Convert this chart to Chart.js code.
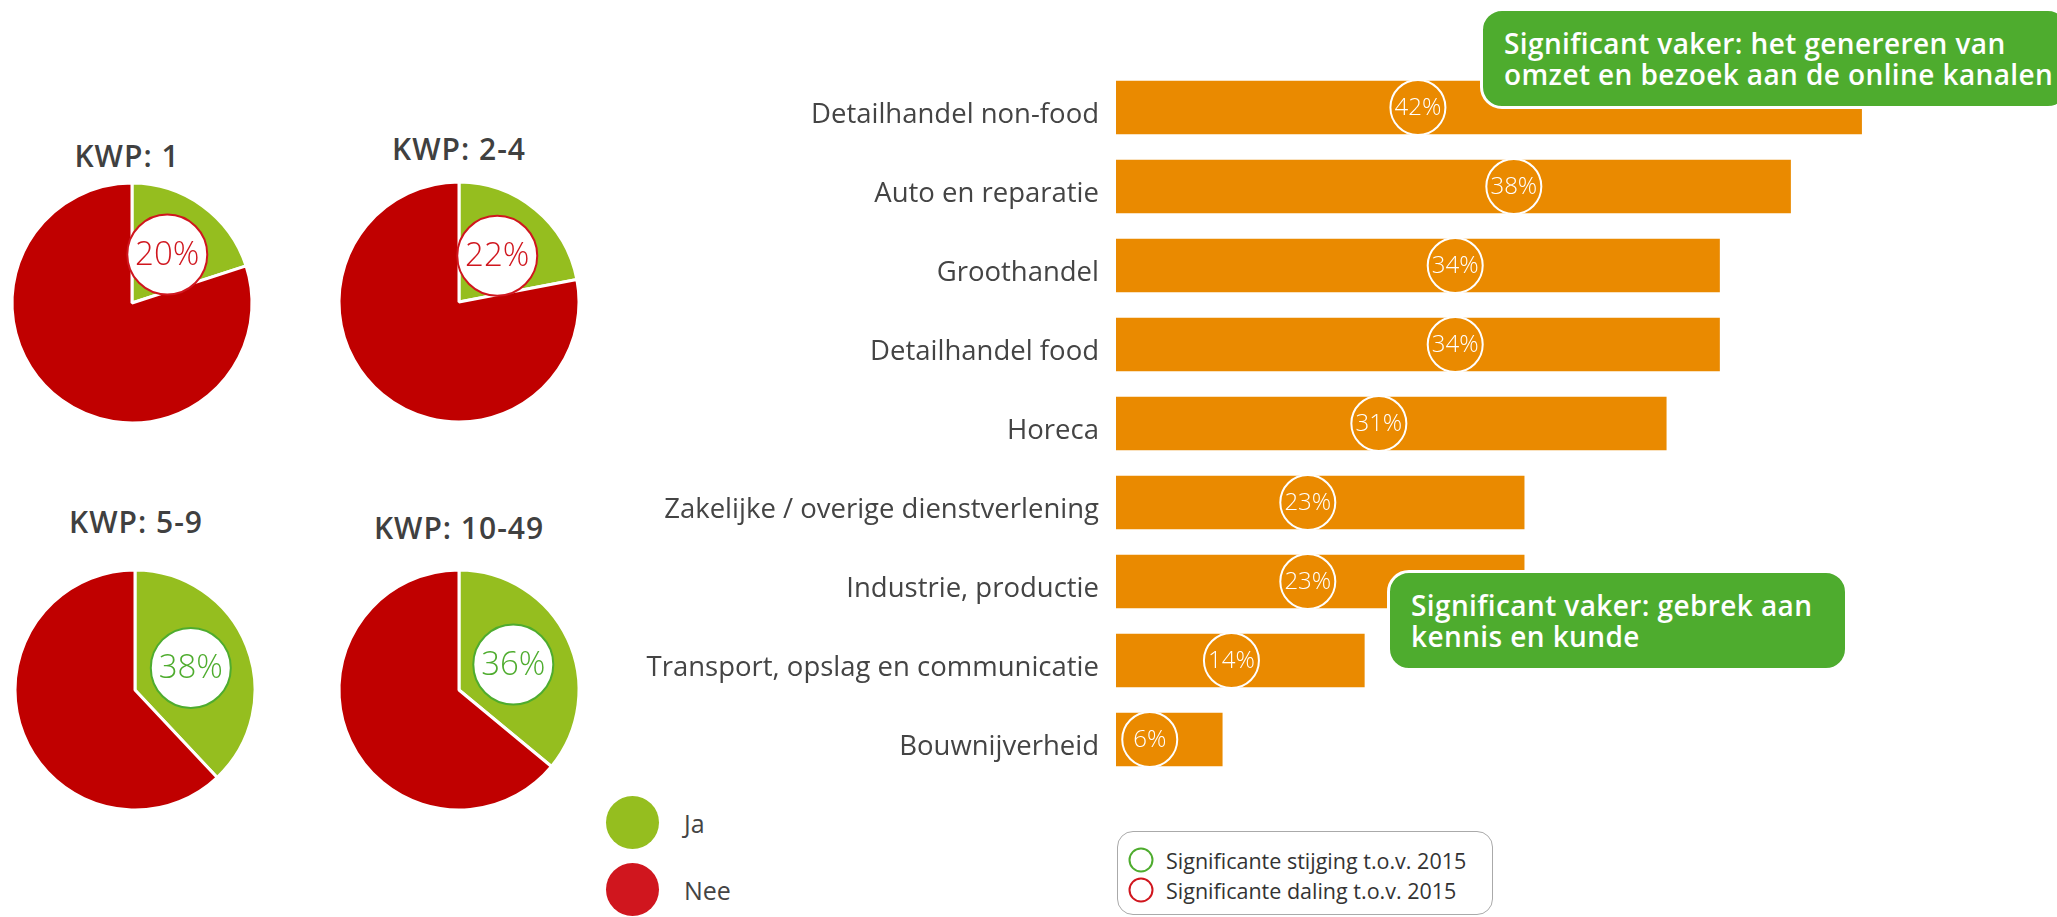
<!DOCTYPE html>
<html lang="nl">
<head>
<meta charset="utf-8">
<title>Online kanalen per sector en bedrijfsgrootte</title>
<script src="https://cdn.jsdelivr.net/npm/chart.js@4.4.1/dist/chart.umd.min.js"></script>
<style>
  html, body { margin: 0; padding: 0; background: #fff; }
  body { width: 2057px; height: 917px; position: relative; overflow: hidden;
         font-family: "Open Sans", "Noto Sans", sans-serif; color: #444; }
  canvas { position: absolute; }
  .title { position: absolute; transform: translate(-50%, -50%); font-size: 30px; font-weight: 600;
           letter-spacing: 1px; color: #404040; white-space: nowrap; }
  .callout { position: absolute; box-sizing: border-box; background: #4EAC2E; border: 3px solid #fff;
             border-radius: 22px; color: #fff; font-size: 28px; font-weight: 600; line-height: 31px;
             letter-spacing: 0.4px; padding-left: 21px; display: flex; flex-direction: column;
             justify-content: center; white-space: nowrap; }
  .dot { position: absolute; border-radius: 50%; }
  .legtxt { position: absolute; transform: translateY(-50%); font-size: 25px; color: #444; white-space: nowrap; }
  .sigbox { position: absolute; box-sizing: border-box; border: 1.5px solid #aaa; border-radius: 16px; }
  .ring { position: absolute; box-sizing: border-box; border-radius: 50%; border: 2.5px solid; width: 25px; height: 25px;
          transform: translate(-50%, -50%); }
  .sigtxt { position: absolute; transform: translateY(-50%); font-size: 21.5px; color: #333; white-space: nowrap; }
</style>
</head>
<body>

<canvas id="bars" width="1404" height="711" style="left:600px;top:68px;width:1404px;height:711px"></canvas>

<script>
// Share per sector (%)
const sectors = [
  'Detailhandel non-food',
  'Auto en reparatie',
  'Groothandel',
  'Detailhandel food',
  'Horeca',
  'Zakelijke / overige dienstverlening',
  'Industrie, productie',
  'Transport, opslag en communicatie',
  'Bouwnijverheid'
];
const sectorShare = [42, 38, 34, 34, 31, 23, 23, 14, 6];

// Share per company size (KWP = werkzame personen)
const pieTitles = ['KWP: 1', 'KWP: 2-4', 'KWP: 5-9', 'KWP: 10-49'];
const pieJa  = [20, 22, 38, 36];
const pieNee = [80, 78, 62, 64];
const pieChange = ['daling', 'daling', 'stijging', 'stijging'];

// Callout texts
const callouts = [
  ['Significant vaker: het genereren van', 'omzet en bezoek aan de online kanalen'],
  ['Significant vaker: gebrek aan', 'kennis en kunde']
];

// ---- styling / layout ----
const ORANGE = '#EA8A00';
const PIE_GREEN = '#95BE1F';
const PIE_RED = '#C00000';
const UP = '#4EAC2E';
const DOWN = '#D0161E';
const FONT = '"Open Sans", "Noto Sans", sans-serif';
const changeColor = { stijging: UP, daling: DOWN };

// where the value badge sits along each bar, in x-axis units
const badgeAt = [17, 22.4, 19.1, 19.1, 14.8, 10.8, 10.8, 6.5, 1.9];
const pieCenters = [[132, 303], [459, 302], [135, 690], [459, 690]];
const titleCenters = [[127, 155], [459, 148], [136, 521], [459, 527]];

// White ring with value on each bar
const barBadges = {
  id: 'barBadges',
  afterDatasetsDraw(chart) {
    const { ctx } = chart;
    const xs = chart.scales.x;
    const meta = chart.getDatasetMeta(0);
    ctx.save();
    meta.data.forEach((bar, i) => {
      const cx = xs.getPixelForValue(badgeAt[i]);
      const cy = bar.y;
      ctx.beginPath();
      ctx.arc(cx, cy, 27.5, 0, Math.PI * 2);
      ctx.lineWidth = 2;
      ctx.strokeStyle = '#fff';
      ctx.stroke();
      ctx.fillStyle = '#fff';
      ctx.font = '300 24px ' + FONT;
      ctx.textAlign = 'center';
      ctx.textBaseline = 'middle';
      ctx.fillText(sectorShare[i] + '%', cx, cy + 1);
    });
    ctx.restore();
  }
};

new Chart(document.getElementById('bars'), {
  type: 'bar',
  data: {
    labels: sectors,
    datasets: [{
      data: sectorShare,
      backgroundColor: ORANGE,
      borderWidth: 0,
      categoryPercentage: 1,
      barPercentage: 0.675
    }]
  },
  options: {
    indexAxis: 'y',
    responsive: false,
    animation: false,
    layout: { padding: 0 },
    plugins: { legend: { display: false }, tooltip: { enabled: false } },
    scales: {
      x: { display: false, min: 0, max: 50 },
      y: {
        afterFit(scale) {
          scale.width = 516;
          scale.paddingTop = 0;
          scale.paddingBottom = 0;
        },
        grid: { display: false, drawTicks: false },
        border: { display: false },
        ticks: { color: '#444', padding: 17, labelOffset: 8, font: { family: FONT, size: 27.5, weight: 400 } }
      }
    }
  },
  plugins: [barBadges]
});

// Ring with percentage on the "Ja" slice of each pie
const pieBadge = {
  id: 'pieBadge',
  afterDatasetsDraw(chart, args, opts) {
    const { ctx } = chart;
    const arc = chart.getDatasetMeta(0).data[0];
    const p = arc.getProps(['x', 'y', 'startAngle', 'endAngle', 'outerRadius'], true);
    const mid = (p.startAngle + p.endAngle) / 2;
    const r = p.outerRadius * 0.5;
    const cx = p.x + Math.cos(mid) * r;
    const cy = p.y + Math.sin(mid) * r;
    ctx.save();
    ctx.beginPath();
    ctx.arc(cx, cy, 40, 0, Math.PI * 2);
    ctx.fillStyle = '#fff';
    ctx.fill();
    ctx.lineWidth = 2;
    ctx.strokeStyle = opts.color;
    ctx.stroke();
    ctx.fillStyle = opts.color;
    ctx.font = '300 33px ' + FONT;
    ctx.textAlign = 'center';
    ctx.textBaseline = 'middle';
    ctx.fillText(opts.text, cx, cy + 1);
    ctx.restore();
  }
};

pieTitles.forEach((t, i) => {
  const [cx, cy] = pieCenters[i];
  const cv = document.createElement('canvas');
  cv.width = 250; cv.height = 250;
  cv.style.left = (cx - 125) + 'px';
  cv.style.top = (cy - 125) + 'px';
  cv.style.width = '250px'; cv.style.height = '250px';
  document.body.appendChild(cv);
  new Chart(cv, {
    type: 'pie',
    data: {
      labels: ['Ja', 'Nee'],
      datasets: [{
        data: [pieJa[i], pieNee[i]],
        backgroundColor: [PIE_GREEN, PIE_RED],
        borderColor: '#fff',
        borderWidth: 3
      }]
    },
    options: {
      responsive: false,
      animation: false,
      radius: 120,
      layout: { padding: 0 },
      plugins: {
        legend: { display: false },
        tooltip: { enabled: false },
        pieBadge: { color: changeColor[pieChange[i]], text: pieJa[i] + '%' }
      }
    },
    plugins: [pieBadge]
  });

  const ttl = document.createElement('div');
  ttl.className = 'title';
  ttl.textContent = t;
  ttl.style.left = titleCenters[i][0] + 'px';
  ttl.style.top = titleCenters[i][1] + 'px';
  document.body.appendChild(ttl);
});

// Callouts
const calloutBoxes = [
  { left: 1480, top: 8, width: 590, height: 101 },
  { left: 1387, top: 570, width: 461, height: 101 }
];
callouts.forEach((lines, i) => {
  const b = calloutBoxes[i];
  const d = document.createElement('div');
  d.className = 'callout';
  Object.assign(d.style, { left: b.left + 'px', top: b.top + 'px', width: b.width + 'px', height: b.height + 'px' });
  lines.forEach(l => { const s = document.createElement('div'); s.textContent = l; d.appendChild(s); });
  document.body.appendChild(d);
});

// Ja / Nee legend
[['Ja', PIE_GREEN, 822.5], ['Nee', DOWN, 889.5]].forEach(([txt, col, y]) => {
  const dot = document.createElement('div');
  dot.className = 'dot';
  Object.assign(dot.style, { left: (632.5 - 26.5) + 'px', top: (y - 26.5) + 'px', width: '53px', height: '53px', background: col });
  document.body.appendChild(dot);
  const t = document.createElement('div');
  t.className = 'legtxt';
  t.textContent = txt;
  Object.assign(t.style, { left: '684px', top: y + 'px' });
  document.body.appendChild(t);
});

// Significance legend
const box = document.createElement('div');
box.className = 'sigbox';
Object.assign(box.style, { left: '1117px', top: '831px', width: '376px', height: '84px' });
document.body.appendChild(box);
[['Significante stijging t.o.v. 2015', UP, 860], ['Significante daling t.o.v. 2015', DOWN, 890]].forEach(([txt, col, y]) => {
  const r = document.createElement('div');
  r.className = 'ring';
  Object.assign(r.style, { left: '1141px', top: y + 'px', borderColor: col });
  document.body.appendChild(r);
  const t = document.createElement('div');
  t.className = 'sigtxt';
  t.textContent = txt;
  Object.assign(t.style, { left: '1166px', top: y + 'px' });
  document.body.appendChild(t);
});
</script>
</body>
</html>
